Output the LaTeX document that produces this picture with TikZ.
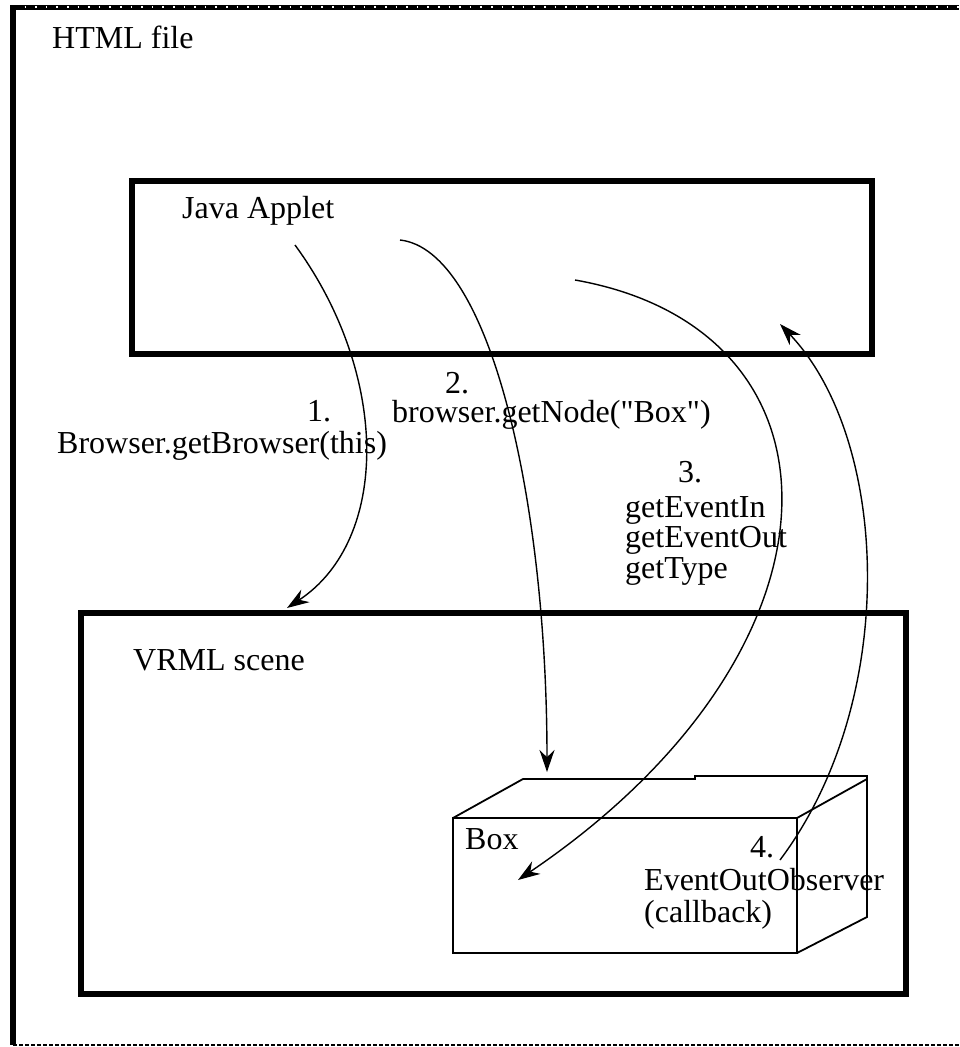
\documentclass[tikz,border=0pt]{standalone}
\usepackage{fontspec}
\setmainfont{Liberation Serif}[Ligatures=TeXOff]
\usetikzlibrary{arrows.meta}
\begin{document}
\begin{tikzpicture}[x=1pt,y=-1pt,
  lbl/.style={anchor=base west,inner sep=0pt,font=\fontsize{32}{34}\selectfont},
  frame/.style={line width=6pt},
  flow/.style={line width=1.4pt,-{Stealth[length=22pt,width=15pt]}},
  boxline/.style={line width=1.8pt}]
\useasboundingbox (0,0) rectangle (959,1047);
% outer dotted border
\draw[line width=5pt] (10,7) -- (959,7);
\draw[white,line width=1.6pt,dash pattern=on 1.6pt off 9pt] (14,7) -- (959,7);
\draw[line width=6pt] (13,5) -- (13,1045);
\draw[line width=1.8pt,dash pattern=on 4pt off 2pt] (13,1045) -- (959,1045);
\node[lbl] (html) at (52,48) {HTML file};
% Java applet
\draw[frame] (132,181) rectangle (872,354);
\node[lbl] (java) at (182,218) {Java Applet};
% VRML scene
\draw[frame] (81,613) rectangle (906,994);
\node[lbl] (vrml) at (133,670) {VRML scene};
% 3D box
\draw[boxline] (453,818) rectangle (797,953);
\draw[boxline] (453,818) -- (523,779) -- (695,779) -- (695,776) -- (867,776) -- (867,917) -- (797,953);
\draw[boxline] (797,818) -- (867,779);
\node[lbl] (box) at (465,849) {Box};
% labels
\node[lbl] (n1) at (307,421) {1.};
\node[lbl] (l1) at (57,453) {Browser.getBrowser(this)};
\node[lbl] (n2) at (445,393) {2.};
\node[lbl] (l2) at (392,422) {browser.getNode("Box")};
\node[lbl] (n3) at (678,482) {3.};
\node[lbl] (l3a) at (625,517) {getEventIn};
\node[lbl] (l3b) at (625,547) {getEventOut};
\node[lbl] (l3c) at (625,578) {getType};
\node[lbl] (n4) at (750,857) {4.};
\node[lbl] (l4a) at (644,890) {EventOutObserver};
\node[lbl] (l4b) at (644,922) {(callback)};
% connectors
\coordinate (s1) at (295,245);
\coordinate (e1) at (287,608);
\coordinate (s2) at (400,240);
\coordinate (e2) at (547,772);
\coordinate (s3) at (575,280);
\coordinate (e3) at (518,880);
\coordinate (s4) at (780,860);
\coordinate (e4) at (780,324);
\draw[flow] (s1) .. controls (390,375) and (390,540) .. (e1);
\draw[flow] (s2) .. controls (490,250) and (547,500) .. (e2);
\draw[flow] (s3) .. controls (858,330) and (858,650) .. (e3);
\draw[flow] (s4) .. controls (900,700) and (890,440) .. (e4);
\end{tikzpicture}
\end{document}
